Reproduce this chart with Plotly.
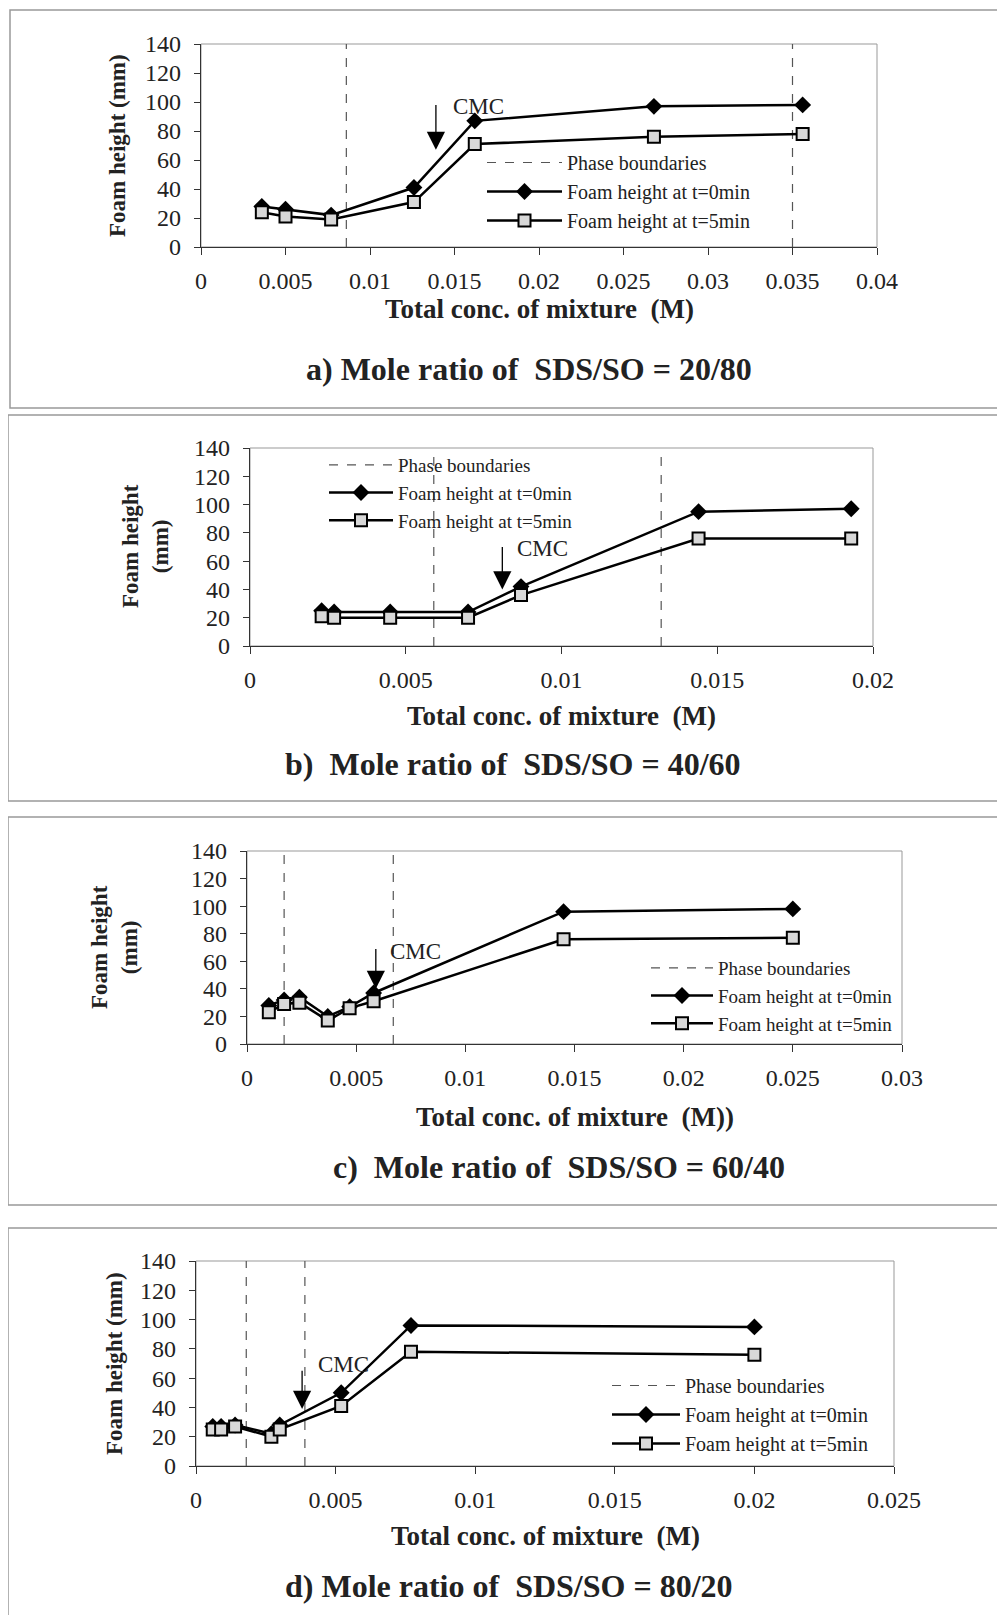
import plotly.graph_objects as go

W, H = 1005, 1615
OFF = 8  # page body margin added by the browser
FONT = "Liberation Serif"

# ---------------- data ----------------
conc_a = [0.0036, 0.0050, 0.0077, 0.0126, 0.0162, 0.0268, 0.0356]
t0_a = [28, 26, 22, 41, 87, 97, 98]
t5_a = [24, 21, 19, 31, 71, 76, 78]
bound_a = [0.0086, 0.0350]
cmc_a = 0.0139
xticks_a = [0, 0.005, 0.01, 0.015, 0.02, 0.025, 0.03, 0.035, 0.04]
xlabels_a = ["0", "0.005", "0.01", "0.015", "0.02", "0.025", "0.03", "0.035", "0.04"]

conc_b = [0.0023, 0.0027, 0.0045, 0.0070, 0.0087, 0.0144, 0.0193]
t0_b = [25, 24, 24, 24, 42, 95, 97]
t5_b = [21, 20, 20, 20, 36, 76, 76]
bound_b = [0.0059, 0.0132]
cmc_b = 0.0081
xticks_b = [0, 0.005, 0.01, 0.015, 0.02]
xlabels_b = ["0", "0.005", "0.01", "0.015", "0.02"]

conc_c = [0.0010, 0.0017, 0.0024, 0.0037, 0.0047, 0.0058, 0.0145, 0.0250]
t0_c = [28, 32, 34, 20, 27, 37, 96, 98]
t5_c = [23, 29, 30, 17, 26, 31, 76, 77]
bound_c = [0.0017, 0.0067]
cmc_c = 0.0059
xticks_c = [0, 0.005, 0.01, 0.015, 0.02, 0.025, 0.03]
xlabels_c = ["0", "0.005", "0.01", "0.015", "0.02", "0.025", "0.03"]

conc_d = [0.0006, 0.0009, 0.0014, 0.0027, 0.0030, 0.0052, 0.0077, 0.0200]
t0_d = [27, 27, 28, 22, 28, 50, 96, 95]
t5_d = [25, 25, 27, 20, 25, 41, 78, 76]
bound_d = [0.0018, 0.0039]
cmc_d = 0.0038
xticks_d = [0, 0.005, 0.01, 0.015, 0.02, 0.025]
xlabels_d = ["0", "0.005", "0.01", "0.015", "0.02", "0.025"]

yticks = [0, 20, 40, 60, 80, 100, 120, 140]

names = ["Phase boundaries", "Foam height at t=0min", "Foam height at t=5min"]
xtitles = ["Total conc. of mixture  (M)", "Total conc. of mixture  (M)",
           "Total conc. of mixture  (M))", "Total conc. of mixture  (M)"]
ytitles = ["Foam height (mm)", "Foam height<br>(mm)", "Foam height<br>(mm)", "Foam height (mm)"]
subtitles = ["a) Mole ratio of  SDS/SO = 20/80", "b)  Mole ratio of  SDS/SO = 40/60",
             "c)  Mole ratio of  SDS/SO = 60/40", "d) Mole ratio of  SDS/SO = 80/20"]

# ---------------- layout geometry (pixels in the picture) ----------------
panels = [
    dict(conc=conc_a, t0=t0_a, t5=t5_a, bound=bound_a, cmc=cmc_a, xt=xticks_a, xl=xlabels_a,
         plot=(201, 877, 44, 247), frame=(10, 10, 408), leg=(482, 143, 75, 20),
         ytitle=(118, 146), xtitle_y=309, sub=(529, 369),
         arrow=(99, 67), cmctext=(0.0164, 97)),
    dict(conc=conc_b, t0=t0_b, t5=t5_b, bound=bound_b, cmc=cmc_b, xt=xticks_b, xl=xlabels_b,
         plot=(250, 873, 448, 646), frame=(8, 415, 801), leg=(324, 446, 64, 19),
         ytitle=(146, 546), xtitle_y=716, sub=(513, 764),
         arrow=(71, 40), cmctext=(0.0094, 69)),
    dict(conc=conc_c, t0=t0_c, t5=t5_c, bound=bound_c, cmc=cmc_c, xt=xticks_c, xl=xlabels_c,
         plot=(247, 902, 851, 1044), frame=(8, 817, 1205), leg=(646, 949, 62, 19),
         ytitle=(114, 947), xtitle_y=1117, sub=(559, 1167),
         arrow=(70, 40), cmctext=(0.0077, 67)),
    dict(conc=conc_d, t0=t0_d, t5=t5_d, bound=bound_d, cmc=cmc_d, xt=xticks_d, xl=xlabels_d,
         plot=(196, 894, 1261, 1466), frame=(8, 1228, 1640), leg=(607, 1366, 68, 20),
         ytitle=(114, 1364), xtitle_y=1536, sub=(509, 1586),
         arrow=(66, 39), cmctext=(0.0053, 69)),
]


def px(x):
    return (x - OFF) / W


def py(y):
    return 1 - (y - OFF) / H


fig = go.Figure()
shapes = []
annotations = []
layout = {}

for i, p in enumerate(panels):
    n = "" if i == 0 else str(i + 1)
    xa, ya = "x" + n, "y" + n
    leg = "legend" + n
    x0, x1, yt, yb = p["plot"]
    xmax = p["xt"][-1]
    ymax = yticks[-1]

    # phase boundaries
    bx, by = [], []
    for b in p["bound"]:
        bx += [b, b, None]
        by += [0, ymax, None]
    fig.add_trace(go.Scatter(x=bx, y=by, mode="lines", name=names[0],
                             line=dict(color="#555555", width=1.2, dash="dash"),
                             xaxis=xa, yaxis=ya, legend=leg))
    fig.add_trace(go.Scatter(x=p["conc"], y=p["t0"], mode="lines+markers", name=names[1],
                             line=dict(color="black", width=2.5),
                             marker=dict(symbol="diamond", size=13, color="black"),
                             xaxis=xa, yaxis=ya, legend=leg))
    fig.add_trace(go.Scatter(x=p["conc"], y=p["t5"], mode="lines+markers", name=names[2],
                             line=dict(color="black", width=2.5),
                             marker=dict(symbol="square", size=12, color="#d8d8d8",
                                         line=dict(color="black", width=2)),
                             xaxis=xa, yaxis=ya, legend=leg))

    layout["xaxis" + n] = dict(
        domain=[px(x0), px(x1)], anchor=ya, range=[0, xmax],
        tickvals=p["xt"], ticktext=p["xl"], ticks="outside", ticklen=7,
        tickcolor="#333", showline=True, linecolor="#333", linewidth=1.2,
        showgrid=False, zeroline=False, ticklabelstandoff=5,
        tickfont=dict(family=FONT, size=24, color="#222"))
    layout["yaxis" + n] = dict(
        domain=[py(yb), py(yt)], anchor=xa, range=[0, ymax],
        tickvals=yticks, ticks="outside", ticklen=6, tickcolor="#333",
        showline=True, linecolor="#333", linewidth=1.2, showgrid=False,
        zeroline=False, ticklabelstandoff=8,
        tickfont=dict(family=FONT, size=24, color="#222"))
    lx, ly, iw, lf = p["leg"]
    layout[leg] = dict(x=px(lx), y=py(ly), xanchor="left", yanchor="top",
                       xref="paper", yref="paper", bgcolor="rgba(0,0,0,0)",
                       font=dict(family=FONT, size=lf, color="#222"),
                       itemwidth=iw, traceorder="normal")

    # plot area frame
    shapes.append(dict(type="rect", xref=xa + " domain", yref=ya + " domain",
                       x0=0, x1=1, y0=0, y1=1, line=dict(color="#999", width=1),
                       layer="below"))
    # panel frame
    fl, ft, fb = p["frame"]
    shapes.append(dict(type="rect", xref="paper", yref="paper", x0=px(fl), x1=1.03,
                       y0=py(fb), y1=py(ft), line=dict(color="#999", width=1.5),
                       layer="below"))

    # CMC arrow + label
    atop, abot = p["arrow"]
    annotations.append(dict(x=p["cmc"], y=abot, ax=p["cmc"], ay=atop, xref=xa, yref=ya,
                            axref=xa, ayref=ya, text="", showarrow=True, arrowhead=2,
                            arrowsize=2.8, arrowwidth=1.3, arrowcolor="black"))
    annotations.append(dict(x=p["cmctext"][0], y=p["cmctext"][1], xref=xa, yref=ya,
                            text="CMC", showarrow=False, xanchor="center", yanchor="middle",
                            font=dict(family=FONT, size=23, color="#222")))
    # axis titles
    annotations.append(dict(x=px((x0 + x1) / 2), y=py(p["xtitle_y"]), xref="paper",
                            yref="paper", text="<b>" + xtitles[i] + "</b>", showarrow=False,
                            xanchor="center", yanchor="middle",
                            font=dict(family=FONT, size=27, color="#222")))
    tx, ty = p["ytitle"]
    annotations.append(dict(x=px(tx), y=py(ty), xref="paper", yref="paper",
                            text="<b>" + ytitles[i] + "</b>", showarrow=False,
                            xanchor="center", yanchor="middle",
                            textangle=-90, font=dict(family=FONT, size=23, color="#222")))
    sx, sy = p["sub"]
    annotations.append(dict(x=px(sx), y=py(sy), xref="paper", yref="paper",
                            text="<b>" + subtitles[i] + "</b>", showarrow=False,
                            xanchor="center", yanchor="middle",
                            font=dict(family=FONT, size=32, color="#222")))

fig.update_layout(width=W, height=H, margin=dict(l=0, r=0, t=0, b=0, autoexpand=False),
                  paper_bgcolor="white", plot_bgcolor="white",
                  shapes=shapes, annotations=annotations, **layout)

fig.write_html("out.html")
